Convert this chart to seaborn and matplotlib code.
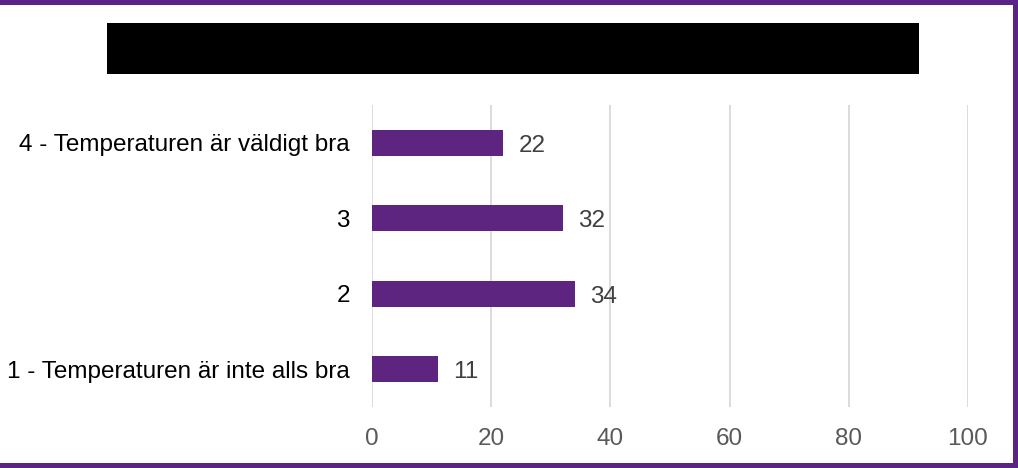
import matplotlib
matplotlib.use("Agg")
import matplotlib.pyplot as plt
import matplotlib.patches as mpatches
import seaborn as sns
import pandas as pd

categories = [
    "4 - Temperaturen är väldigt bra",
    "3",
    "2",
    "1 - Temperaturen är inte alls bra",
]
values = [22, 32, 34, 11]
x_ticks = [0, 20, 40, 60, 80, 100]

bar_color = "#5E2580"
frame_color = "#5B2386"

sns.set_theme(style="white")
plt.rcParams["font.family"] = ["Liberation Sans", "DejaVu Sans"]

df = pd.DataFrame({"category": categories, "value": values})

fig = plt.figure(figsize=(10.18, 4.68), dpi=100)
W, H = 1018, 468
ax = fig.add_axes([372 / W, 1 - 407 / H, (968 - 372) / W, (407 - 105) / H])

sns.barplot(data=df, x="value", y="category", orient="h", color=bar_color,
            saturation=1, width=0.345, ax=ax, edgecolor="none")

ax.set_xlim(0, 100)
ax.set_ylim(3.5, -0.5)
ax.set_xticks(x_ticks)
ax.set_xticklabels([str(t) for t in x_ticks], fontsize=17.5, color="#595959")
ax.tick_params(axis="x", length=0, pad=15)
ax.tick_params(axis="y", length=0, pad=16, labelsize=17.5, labelcolor="#000000")
ax.set_xlabel("")
ax.set_ylabel("")
ax.grid(axis="x", color="#D9D9D9", linewidth=1.3)
ax.set_axisbelow(True)
for s in ax.spines.values():
    s.set_visible(False)

for i, v in enumerate(values):
    ax.annotate(str(v), xy=(v, i), xytext=(11, -2), textcoords="offset points",
                va="center", ha="left", fontsize=17.5, color="#404040")

# Title band and outer frame
fig.patches.append(mpatches.Rectangle((107 / W, 1 - 74 / H), (919 - 107) / W, (74 - 23) / H,
                                      transform=fig.transFigure, facecolor="black",
                                      edgecolor="none"))
fig.patches.append(mpatches.Rectangle((0, 1 - 5 / H), 1, 5 / H, transform=fig.transFigure,
                                      facecolor=frame_color, edgecolor="none"))
fig.patches.append(mpatches.Rectangle((0, 0), 1, 5 / H, transform=fig.transFigure,
                                      facecolor=frame_color, edgecolor="none"))
fig.patches.append(mpatches.Rectangle((1 - 5 / W, 0), 5 / W, 1, transform=fig.transFigure,
                                      facecolor=frame_color, edgecolor="none"))

fig.savefig("out.png", dpi=100)
